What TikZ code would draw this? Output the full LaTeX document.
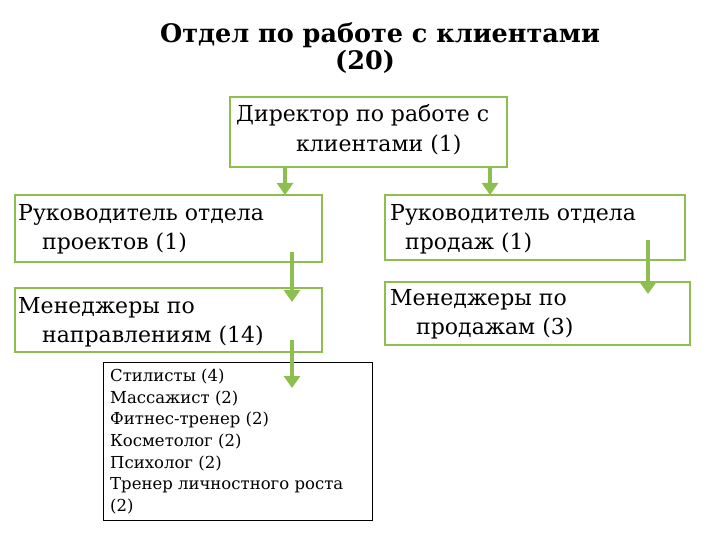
\documentclass[tikz,border=0pt]{standalone}
\usepackage{fontspec}
\setmainfont{DejaVu Serif}
\usetikzlibrary{arrows.meta}
\definecolor{grn}{RGB}{140,190,80}
\begin{document}
\begin{tikzpicture}[x=1pt,y=-1pt,
  box/.style={draw=grn,line width=2pt},
  txt/.style={anchor=west,font=\fontsize{22}{24}\selectfont,inner sep=0},
  sm/.style={anchor=west,font=\fontsize{16.5}{18}\selectfont,inner sep=0},
  arr/.style={draw=grn,line width=4pt,-{Triangle[length=12pt,width=16pt]}}]
\useasboundingbox (0,0) rectangle (720,540);
\node[font=\bfseries\fontsize{25.5}{28}\selectfont] (t1) at (380,35) {Отдел по работе с клиентами};
\node[font=\bfseries\fontsize{25.5}{28}\selectfont] (t2) at (365,62) {(20)};
\draw[box] (230,97) rectangle (507,167);
\node[txt] (d1) at (236,115) {Директор по работе с};
\node[txt] (d2) at (296,145) {клиентами (1)};
\draw[box] (15,195) rectangle (322,262);
\node[txt] (a1) at (18,215) {Руководитель отдела};
\node[txt] (a2) at (42,243) {проектов (1)};
\draw[box] (385,195) rectangle (685,260);
\node[txt] (b1) at (390,215) {Руководитель отдела};
\node[txt] (b2) at (405,243) {продаж (1)};
\draw[box] (15,288) rectangle (322,352);
\node[txt] (c1) at (18,308) {Менеджеры по};
\node[txt] (c2) at (42,336) {направлениям (14)};
\draw[box] (385,282) rectangle (690,345);
\node[txt] (e1) at (390,300) {Менеджеры по};
\node[txt] (e2) at (416,328) {продажам (3)};
\draw[line width=0.8pt] (103,362) rectangle (372,520);
\foreach \s [count=\i] in {Стилисты (4),Массажист (2),Фитнес-тренер (2),Косметолог (2),Психолог (2),Тренер личностного роста,(2)}
  \node[sm] (s\i) at (110,355+21.7*\i) {\s};
\coordinate (p1) at (285,167); \coordinate (q1) at (285,195);
\coordinate (p2) at (490,167); \coordinate (q2) at (490,195);
\coordinate (p3) at (292,252); \coordinate (q3) at (292,302);
\coordinate (p4) at (648,240); \coordinate (q4) at (648,294);
\coordinate (p5) at (292,340); \coordinate (q5) at (292,388);
\foreach \i in {1,...,5} \draw[arr] (p\i) -- (q\i);
\end{tikzpicture}
\end{document}
